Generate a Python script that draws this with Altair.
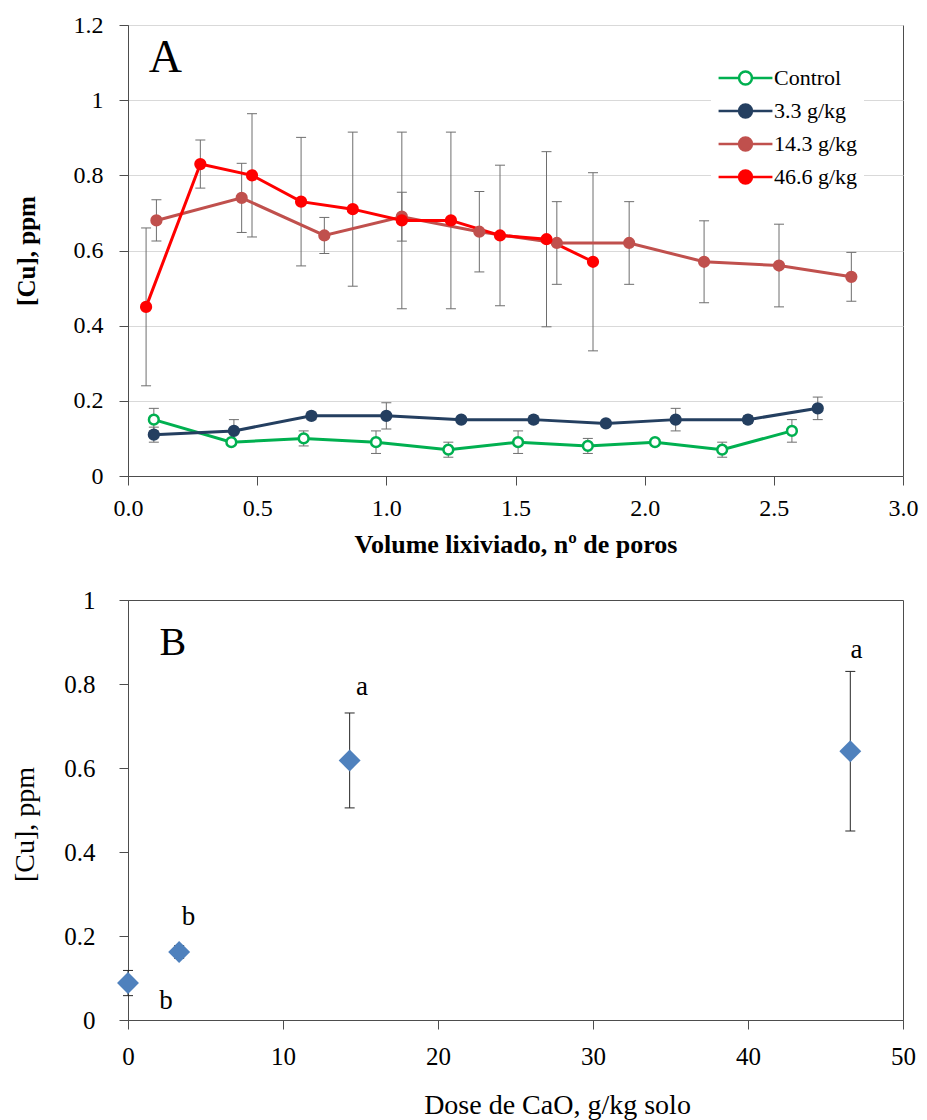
import altair as alt
import pandas as pd

SERIF = "Liberation Serif"

# ---------------- Panel A data ----------------
series_names = ["Control", "3.3 g/kg", "14.3 g/kg", "46.6 g/kg"]
series_stroke = ["#00B050", "#243F60", "#C0504D", "#FF0000"]
series_fill = ["#FFFFFF", "#243F60", "#C0504D", "#FF0000"]

ctrl_x = [0.10, 0.40, 0.68, 0.96, 1.24, 1.51, 1.78, 2.04, 2.30, 2.57]
ctrl_y = [0.15, 0.09, 0.10, 0.09, 0.07, 0.09, 0.08, 0.09, 0.07, 0.12]
ctrl_e = [0.03, 0.005, 0.02, 0.03, 0.02, 0.03, 0.02, 0.005, 0.02, 0.03]

d33_x = [0.10, 0.41, 0.71, 1.00, 1.29, 1.57, 1.85, 2.12, 2.40, 2.67]
d33_y = [0.11, 0.12, 0.16, 0.16, 0.15, 0.15, 0.14, 0.15, 0.15, 0.18]
d33_e = [0.02, 0.03, 0.01, 0.035, 0.005, 0.01, 0.005, 0.03, 0.01, 0.03]

d143_x = [0.11, 0.44, 0.76, 1.06, 1.36, 1.66, 1.94, 2.23, 2.52, 2.80]
d143_y = [0.68, 0.74, 0.64, 0.69, 0.65, 0.62, 0.62, 0.57, 0.56, 0.53]
d143_e = [0.055, 0.092, 0.048, 0.065, 0.107, 0.11, 0.11, 0.109, 0.11, 0.065]

d466_x = [0.07, 0.28, 0.48, 0.67, 0.87, 1.06, 1.25, 1.44, 1.62, 1.80]
d466_y = [0.45, 0.83, 0.80, 0.73, 0.71, 0.68, 0.68, 0.64, 0.63, 0.57]
d466_e = [0.21, 0.064, 0.164, 0.171, 0.205, 0.235, 0.235, 0.187, 0.233, 0.237]

x_ticks_A = [0, 0.5, 1.0, 1.5, 2.0, 2.5, 3.0]
y_ticks_A = [0, 0.2, 0.4, 0.6, 0.8, 1.0, 1.2]
panel_A_label = {"x": [0.145], "y": [1.112], "t": ["A"]}

# ---------------- Panel B data ----------------
doses = [0, 3.3, 14.3, 46.6]
mean_B = [0.088, 0.162, 0.618, 0.64]
err_B = [0.03, 0.015, 0.113, 0.19]
letters = ["b", "b", "a", "a"]
letter_x = [2.45, 3.9, 15.1, 47.0]
letter_y = [0.045, 0.245, 0.792, 0.88]
x_ticks_B = [0, 10, 20, 30, 40, 50]
y_ticks_B = [0, 0.2, 0.4, 0.6, 0.8, 1.0]
panel_B_label = {"x": [2.9], "y": [0.898], "t": ["B"]}

AXIS_C = "#4d4d4d"
ERR_A = "#6e6e6e"

# ---------------- build panel A ----------------
rows = []
for k, (name, xs, ys, es) in enumerate(zip(series_names,
                                           [ctrl_x, d33_x, d143_x, d466_x],
                                           [ctrl_y, d33_y, d143_y, d466_y],
                                           [ctrl_e, d33_e, d143_e, d466_e])):
    for x, y, e in zip(xs, ys, es):
        rows.append({"series": name, "k": k, "x": x, "y": y, "lo": y - e, "hi": y + e})
dfA = pd.DataFrame(rows)

xsA = alt.Scale(domain=[0, 3], nice=False)
ysA = alt.Scale(domain=[0, 1.2], nice=False)

x_axis_A = alt.Axis(values=x_ticks_A, format=".1f", title="Volume lixiviado, nº de poros",
                    titleFont=SERIF, titleFontSize=26, titleFontWeight="bold", titleColor="black",
                    titleY=76, titleBaseline="alphabetic",
                    labelFont=SERIF, labelFontSize=24, labelColor="black", labelPadding=11,
                    labelFlush=False, labelOverlap=False,
                    tickSize=9, tickColor=AXIS_C, domainColor=AXIS_C, grid=False)
y_axis_A = alt.Axis(values=y_ticks_A, format="~g", title="[Cu], ppm",
                    titleFont=SERIF, titleFontSize=25, titleFontWeight="bold", titleColor="black",
                    titleAngle=270, titleX=-94, titleBaseline="alphabetic",
                    labelFont=SERIF, labelFontSize=24, labelColor="black", labelPadding=16,
                    labelFlush=False, labelOverlap=False,
                    tickSize=9, tickColor=AXIS_C, domainColor=AXIS_C,
                    grid=True, gridColor="#d9d9d9", gridWidth=1)

def XA(f):
    return alt.X(f"{f}:Q", scale=xsA, axis=x_axis_A)

def YA(f):
    return alt.Y(f"{f}:Q", scale=ysA, axis=y_axis_A)

LEG_PATH = ("M-1,0L-0.24,0M0.24,0L1,0"
            "M0.24,0A0.24,0.24 0 1,1 -0.24,0A0.24,0.24 0 1,1 0.24,0Z")
legA = alt.Legend(title=None, orient="none", legendX=583, legendY=34,
                  symbolType=LEG_PATH, symbolSize=2900, symbolStrokeWidth=2.5,
                  symbolOpacity=1,
                  labelFont=SERIF, labelFontSize=22, labelColor="black", labelOffset=0,
                  fillColor="white", padding=6, rowPadding=7, clipHeight=26,
                  labelLimit=300)

stroke_enc = alt.Stroke("series:N", scale=alt.Scale(domain=series_names, range=series_stroke),
                        legend=legA)
fill_enc = alt.Fill("series:N", scale=alt.Scale(domain=series_names, range=series_fill),
                    legend=legA)

baseA = alt.Chart(dfA)
errA = baseA.mark_rule(color=ERR_A, strokeWidth=1).encode(x=XA("x"), y=YA("lo"), y2="hi")
capLoA = baseA.mark_tick(orient="horizontal", size=10, thickness=1, color=ERR_A, opacity=1).encode(
    x=XA("x"), y=YA("lo"))
capHiA = baseA.mark_tick(orient="horizontal", size=10, thickness=1, color=ERR_A, opacity=1).encode(
    x=XA("x"), y=YA("hi"))
linesA = baseA.mark_line(strokeWidth=3).encode(
    x=XA("x"), y=YA("y"), stroke=stroke_enc, detail="series:N", order="x:Q")
pointsA = baseA.mark_point(filled=False, size=95, strokeWidth=2.5, opacity=1).encode(
    x=XA("x"), y=YA("y"), stroke=stroke_enc, fill=fill_enc, order="k:Q")
labelA = alt.Chart(pd.DataFrame(panel_A_label)).mark_text(
    font=SERIF, fontSize=46, color="black", align="center", baseline="middle").encode(
    x=XA("x"), y=YA("y"), text="t:N")

chartA = alt.layer(errA, capLoA, capHiA, linesA, pointsA, labelA).properties(width=775, height=451)

# ---------------- build panel B ----------------
dfB = pd.DataFrame({"dose": doses, "mean": mean_B,
                    "lo": [m - e for m, e in zip(mean_B, err_B)],
                    "hi": [m + e for m, e in zip(mean_B, err_B)]})
dfL = pd.DataFrame({"dose": letter_x, "mean": letter_y, "t": letters})

xsB = alt.Scale(domain=[0, 50], nice=False)
ysB = alt.Scale(domain=[0, 1], nice=False)

x_axis_B = alt.Axis(values=x_ticks_B, format="d", title="Dose de CaO, g/kg solo",
                    titleFont=SERIF, titleFontSize=28, titleFontWeight="normal", titleColor="black",
                    titleX=429, titleY=93, titleBaseline="alphabetic",
                    labelFont=SERIF, labelFontSize=25, labelColor="black", labelPadding=15,
                    labelFlush=False, labelOverlap=False,
                    tickSize=9, tickColor=AXIS_C, domainColor=AXIS_C, grid=False)
y_axis_B = alt.Axis(values=y_ticks_B, format="~g", title="[Cu], ppm",
                    titleFont=SERIF, titleFontSize=28, titleFontWeight="normal", titleColor="black",
                    titleAngle=270, titleX=-95, titleY=224, titleBaseline="alphabetic",
                    labelFont=SERIF, labelFontSize=25, labelColor="black", labelPadding=24,
                    labelFlush=False, labelOverlap=False,
                    tickSize=9, tickColor=AXIS_C, domainColor=AXIS_C, grid=False)

def XB(f):
    return alt.X(f"{f}:Q", scale=xsB, axis=x_axis_B)

def YB(f):
    return alt.Y(f"{f}:Q", scale=ysB, axis=y_axis_B)

baseB = alt.Chart(dfB)
errB = baseB.mark_rule(color="#262626", strokeWidth=1).encode(x=XB("dose"), y=YB("lo"), y2="hi")
capLoB = baseB.mark_tick(orient="horizontal", size=10, thickness=1, color="#262626", opacity=1).encode(
    x=XB("dose"), y=YB("lo"))
capHiB = baseB.mark_tick(orient="horizontal", size=10, thickness=1, color="#262626", opacity=1).encode(
    x=XB("dose"), y=YB("hi"))
ptsB = baseB.mark_point(shape="diamond", filled=True, size=480, color="#4F81BD", opacity=1).encode(
    x=XB("dose"), y=YB("mean"))
lettersB = alt.Chart(dfL).mark_text(font=SERIF, fontSize=27, color="black",
                                    align="center", baseline="middle").encode(
    x=XB("dose"), y=YB("mean"), text="t:N")
labelB = alt.Chart(pd.DataFrame(panel_B_label).rename(columns={"x": "dose", "y": "mean"})).mark_text(
    font=SERIF, fontSize=40, color="black", align="center", baseline="middle").encode(
    x=XB("dose"), y=YB("mean"), text="t:N")

chartB = alt.layer(errB, capLoB, capHiB, ptsB, lettersB, labelB).properties(width=775, height=420)

chart = alt.vconcat(chartA, chartB, spacing=29).configure(font=SERIF).configure_view(
    stroke=AXIS_C, strokeWidth=1).properties(
    padding={"top": 4, "left": 2, "right": 0, "bottom": 0}, background="white")

chart.save("out.html", embed_options={"renderer": "svg", "actions": False})
